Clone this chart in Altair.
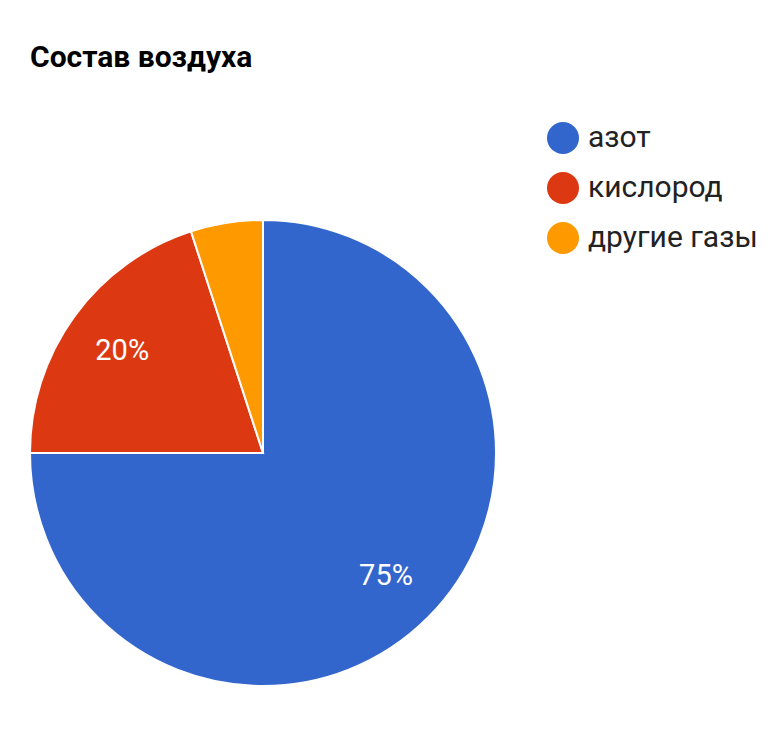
import altair as alt
import pandas as pd

categories = ["азот", "кислород", "другие газы"]
values = [75, 20, 5]
colors = ["#3366CC", "#DC3912", "#FF9900"]

df = pd.DataFrame({"gas": categories, "value": values, "idx": list(range(len(categories)))})

cx, cy = 255, 355

base = alt.Chart(df).encode(
    theta=alt.Theta("value:Q", stack=True),
    order=alt.Order("idx:Q"),
    x=alt.value(cx),
    y=alt.value(cy),
)

arcs = base.mark_arc(radius=233, stroke="white", strokeWidth=2).encode(
    color=alt.Color(
        "gas:N",
        scale=alt.Scale(domain=categories, range=colors),
        sort=categories,
        legend=alt.Legend(
            title=None,
            orient="none",
            legendX=539,
            legendY=24,
            symbolType="circle",
            symbolSize=1024,
            symbolStrokeWidth=0,
            labelFontSize=30,
            labelFont="Roboto",
            labelColor="#222222",
            labelOffset=9,
            rowPadding=18,
            padding=0,
            labelLimit=400,
        ),
    )
)

labels = base.transform_calculate(
    lab="datum.value >= 10 ? format(datum.value / 100, '.0%') : ''"
).mark_text(
    radius=174, color="white", fontSize=29, font="Roboto", align="center", baseline="middle"
).encode(text="lab:N")

chart = alt.layer(arcs, labels).properties(
    width=766,
    height=630,
    padding={"left": 0, "top": 90, "right": 0, "bottom": 0},
    autosize=alt.AutoSizeParams(type="none"),
    title=alt.TitleParams(
        "Состав воздуха",
        anchor="start",
        frame="group",
        font="Roboto",
        fontSize=30,
        fontWeight="bold",
        color="#000000",
        baseline="alphabetic",
        offset=1,
        dx=22,
    ),
).configure_view(stroke=None)

chart.save("out.html", embed_options={"renderer": "svg", "actions": False})
